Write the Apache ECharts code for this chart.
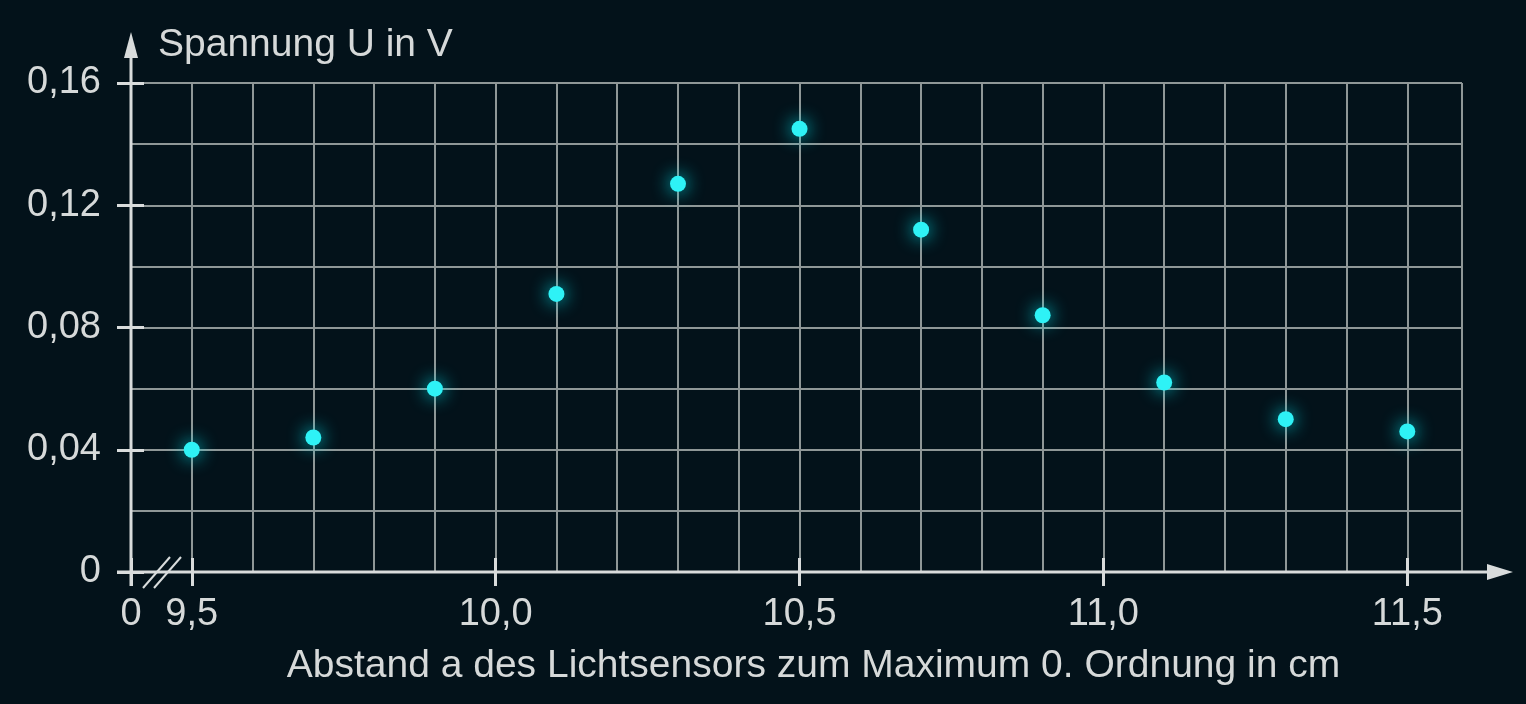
<!DOCTYPE html>
<html>
<head>
<meta charset="utf-8">
<script src="https://cdn.jsdelivr.net/npm/echarts@6/dist/echarts.min.js"></script>
<style>
  html, body { margin: 0; padding: 0; background: #03121a; }
  #chart { width: 1526px; height: 704px; }
</style>
</head>
<body>
<div id="chart"></div>
<script>
// Messwerte: Abstand a in cm, Spannung U in V
const abstand = [9.5, 9.7, 9.9, 10.1, 10.3, 10.5, 10.7, 10.9, 11.1, 11.3, 11.5]
const spannung = [0.040, 0.044, 0.060, 0.091, 0.127, 0.145, 0.112, 0.084, 0.062, 0.050, 0.046]

const xTickValues = [9.4, 9.5, 10.0, 10.5, 11.0, 11.5]
const yTickValues = [0, 0.04, 0.08, 0.12, 0.16]

const xMin = 9.4, xMax = 11.59
const yMin = 0, yMax = 0.16

const axisColor = '#d9dcdc'
const gridColor = '#8f9797'
const textColor = '#d6d9d9'
const font = 'Liberation Sans, Arial, sans-serif'

// "0" steht am Ursprung, danach Achsenbruch bis 9,5
const fmtX = v => Math.abs(v - xMin) < 1e-6 ? '0' : v.toFixed(1).replace('.', ',')
const fmtY = v => v === 0 ? '0' : v.toFixed(2).replace('.', ',')

const chart = echarts.init(document.getElementById('chart'))

const tickStyle = { color: axisColor, width: 3 }
const baseX = {
  type: 'value', min: xMin, max: xMax, interval: 0.1,
  position: 'bottom',
  axisLine: { show: false },
  splitLine: { show: false },
  axisTick: { show: false },
  axisLabel: { show: false }
}
const baseY = {
  type: 'value', min: yMin, max: yMax, interval: 0.02,
  position: 'left',
  axisLine: { show: false },
  splitLine: { show: false },
  axisTick: { show: false },
  axisLabel: { show: false }
}

chart.setOption({
  backgroundColor: '#03121a',
  animation: false,
  grid: { left: 131, right: 64, top: 83, bottom: 132 },
  xAxis: [
    {
      ...baseX,
      name: 'Abstand a des Lichtsensors zum Maximum 0. Ordnung in cm',
      nameLocation: 'middle',
      nameGap: 75,
      nameTextStyle: { color: textColor, fontSize: 39, fontFamily: font, padding: [0, 0, 0, 34] },
      axisTick: { show: true, customValues: xTickValues, length: 14, lineStyle: tickStyle },
      axisLabel: { show: true, customValues: xTickValues, formatter: fmtX, margin: 24, color: textColor, fontSize: 38, fontFamily: font }
    },
    // Gitterlinien alle 0,1 cm
    { ...baseX, splitLine: { show: true, lineStyle: { color: gridColor, width: 2 } } },
    // Teilstriche nach innen
    { ...baseX, axisTick: { show: true, inside: true, customValues: xTickValues, length: 14, lineStyle: tickStyle } }
  ],
  yAxis: [
    {
      ...baseY,
      name: 'Spannung U in V',
      nameLocation: 'end',
      nameGap: 38,
      nameTextStyle: { color: textColor, fontSize: 39, fontFamily: font, align: 'left', verticalAlign: 'middle', padding: [0, 0, 0, 27] },
      axisTick: { show: true, customValues: yTickValues, length: 14, lineStyle: tickStyle },
      axisLabel: { show: true, customValues: yTickValues, formatter: fmtY, margin: 30, color: textColor, fontSize: 38, fontFamily: font }
    },
    // Gitterlinien alle 0,02 V
    { ...baseY, splitLine: { show: true, lineStyle: { color: gridColor, width: 2 } } },
    { ...baseY, axisTick: { show: true, inside: true, customValues: yTickValues, length: 13, lineStyle: tickStyle } }
  ],
  series: [{
    type: 'scatter',
    xAxisIndex: 0,
    yAxisIndex: 0,
    data: abstand.map((a, i) => [a, spannung[i]]),
    symbolSize: 16,
    z: 10,
    itemStyle: {
      color: '#2ef2f6',
      opacity: 1,
      shadowBlur: 18,
      shadowColor: 'rgba(0, 240, 250, 0.9)'
    }
  }]
})

// Achsen mit Pfeilen und Achsenbruch
const o = chart.convertToPixel({ gridIndex: 0 }, [xMin, yMin])
const tr = chart.convertToPixel({ gridIndex: 0 }, [xMax, yMax])
const lineStyle = { stroke: axisColor, lineWidth: 3 }

chart.setOption({
  graphic: [
    { type: 'line', z: 50, shape: { x1: o[0] - 14, y1: o[1], x2: tr[0] + 27, y2: o[1] }, style: lineStyle },
    { type: 'polygon', z: 50, shape: { points: [[tr[0] + 25, o[1] - 8], [tr[0] + 51, o[1]], [tr[0] + 25, o[1] + 8]] }, style: { fill: axisColor } },
    { type: 'line', z: 50, shape: { x1: o[0], y1: o[1] + 14, x2: o[0], y2: tr[1] - 27 }, style: lineStyle },
    { type: 'polygon', z: 50, shape: { points: [[o[0] - 7, tr[1] - 25], [o[0], tr[1] - 51], [o[0] + 7, tr[1] - 25]] }, style: { fill: axisColor } },
    { type: 'line', z: 51, shape: { x1: o[0] + 12, y1: o[1] + 16, x2: o[0] + 39, y2: o[1] - 15 }, style: { stroke: axisColor, lineWidth: 2 } },
    { type: 'line', z: 51, shape: { x1: o[0] + 23, y1: o[1] + 16, x2: o[0] + 50, y2: o[1] - 15 }, style: { stroke: axisColor, lineWidth: 2 } }
  ]
})
</script>
</body>
</html>
